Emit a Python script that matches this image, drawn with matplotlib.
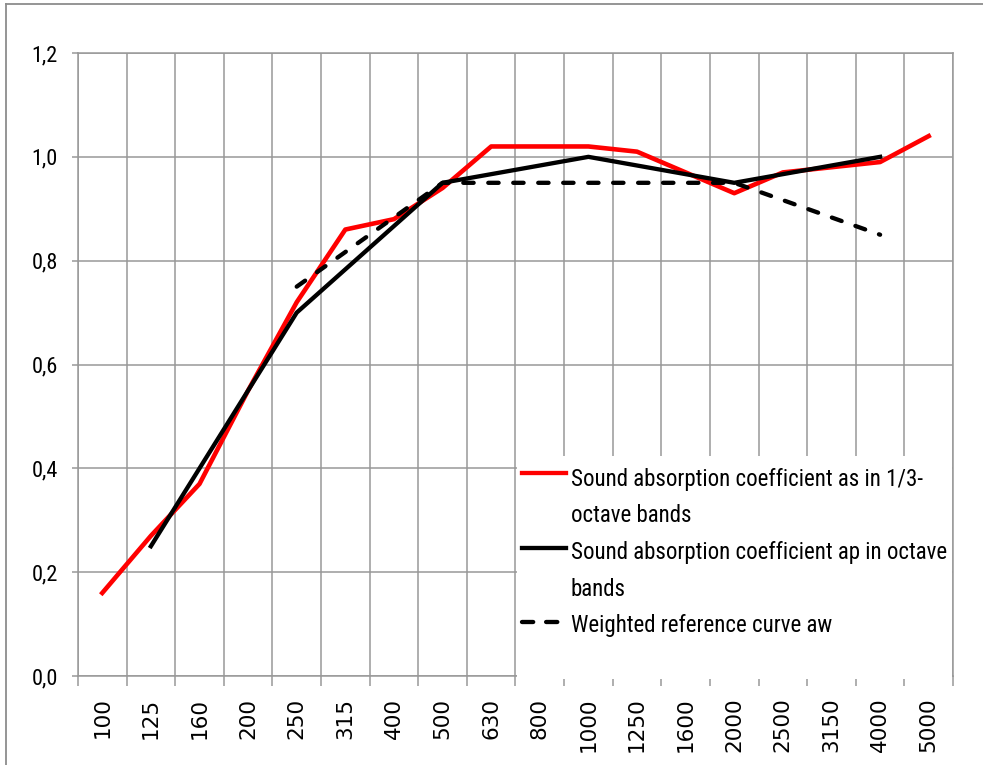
#!/usr/bin/env python3
"""Sound absorption coefficient vs frequency (1/3-octave, octave, weighted reference curve)."""

import matplotlib

matplotlib.use("Agg")
import matplotlib.pyplot as plt
import numpy as np
from matplotlib import font_manager
from matplotlib.lines import Line2D
from matplotlib.patches import Rectangle

# Data
freq_labels = ["100", "125", "160", "200", "250", "315", "400", "500", "630",
               "800", "1000", "1250", "1600", "2000", "2500", "3150", "4000", "5000"]
alpha_third = [0.16, 0.27, 0.37, 0.55, 0.72, 0.86, 0.88, 0.94, 1.02,
               1.02, 1.02, 1.01, 0.97, 0.93, 0.97, 0.98, 0.99, 1.04]
octave_labels = ["125", "250", "500", "1000", "2000", "4000"]
alpha_octave = [0.25, 0.70, 0.95, 1.00, 0.95, 1.00]
ref_labels = ["250", "500", "1000", "2000", "4000"]
alpha_ref = [0.75, 0.95, 0.95, 0.95, 0.85]
y_ticks = [0.0, 0.2, 0.4, 0.6, 0.8, 1.0, 1.2]
y_tick_labels = ["0,0", "0,2", "0,4", "0,6", "0,8", "1,0", "1,2"]

legend_labels = [
    ["Sound absorption coefficient as in 1/3-", "octave bands"],
    ["Sound absorption coefficient ap in octave", "bands"],
    ["Weighted reference curve aw"],
]


def narrow_font():
    """Pick the narrowest sans font that is installed."""
    fonts = font_manager.fontManager.ttflist
    names = {f.name for f in fonts}
    for name in ["Liberation Sans Narrow", "Roboto Condensed", "Open Sans Condensed",
                 "Noto Sans Condensed", "DejaVu Sans Condensed"]:
        if name in names:
            return dict(family=name)
    for f in fonts:
        if f.name == "DejaVu Sans" and str(f.stretch) in ("condensed", "semi-condensed"):
            return dict(family="DejaVu Sans", fontstretch="condensed")
    return dict(family="Lato" if "Lato" in names else "Liberation Sans")


NARROW = narrow_font()
GRID = "#989898"

fig = plt.figure(figsize=(9.83, 7.65), dpi=100)
ax = fig.add_axes([0.0793, 0.1163, 0.8902, 0.8144])

x = np.arange(len(freq_labels))
pos = {f: i for i, f in enumerate(freq_labels)}
x_oct = [pos[f] for f in octave_labels]
x_ref = [pos[f] for f in ref_labels]

ax.plot(x, alpha_third, color="#ff0000", lw=3.3, zorder=3)
ax.plot(x_oct, alpha_octave, color="black", lw=3.1, zorder=4)
ax.plot(x_ref, alpha_ref, color="black", lw=3.1, zorder=5,
        dashes=(2.4, 3.4), dash_capstyle="round")

ax.set_xlim(-0.5, len(freq_labels) - 0.5)
ax.set_ylim(0, 1.2)

# category labels at centres, grid/ticks at boundaries
ax.set_xticks(x)
ax.set_xticklabels(freq_labels, rotation=90, fontsize=15.5, family="DejaVu Sans")
ax.set_xticks(np.arange(-0.5, len(freq_labels)), minor=True)
ax.tick_params(axis="x", which="major", length=0, pad=15.5)
ax.tick_params(axis="x", which="minor", length=7, width=1.1, color=GRID, direction="out")
ax.grid(True, axis="x", which="minor", color=GRID, lw=1.1, zorder=0)

ax.set_yticks(y_ticks)
ax.set_yticklabels(y_tick_labels, fontsize=16, **NARROW)
ax.tick_params(axis="y", length=4.5, width=1.1, color=GRID, pad=10)
ax.grid(True, axis="y", which="major", color=GRID, lw=1.1, zorder=0)
ax.set_axisbelow(True)

for s in ax.spines.values():
    s.set_color(GRID)
    s.set_linewidth(1.1)

# legend: white box over the lower right of the plot
ax.add_patch(Rectangle((0.5018, -0.004), 0.4965, 0.357, transform=ax.transAxes,
                       facecolor="white", edgecolor="none", zorder=6, clip_on=False))

handle_y = [0.3258, 0.2060, 0.0872]
text_y = [[0.3055, 0.2477], [0.1878, 0.1284], [0.0711]]
styles = [dict(color="#ff0000"), dict(color="black"),
          dict(color="black", dashes=(2.6, 3.0), dash_capstyle="round")]
texts = []
for hy, ty, lab, st in zip(handle_y, text_y, legend_labels, styles):
    ax.add_line(Line2D([0.5074, 0.5577], [hy, hy], transform=ax.transAxes,
                       lw=3.1, zorder=7, clip_on=False, **st))
    for yy, t in zip(ty, lab):
        texts.append(ax.text(0.5634, yy, t, transform=ax.transAxes, fontsize=17,
                             va="baseline", ha="left", zorder=7, **NARROW))

# size legend text so the first line spans the same width as in the source (~351 px)
renderer = fig.canvas.get_renderer()
w = texts[0].get_window_extent(renderer).width
size = min(18.0, 17 * 351.0 / w)
for t in texts:
    t.set_fontsize(size)

# outer chart border (top and left visible)
fig.add_artist(Line2D([0.006, 1.0], [0.9945, 0.9945], transform=fig.transFigure,
                      color="#8c8c8c", lw=1.3))
fig.add_artist(Line2D([0.006, 0.006], [0.0, 0.9945], transform=fig.transFigure,
                      color="#8c8c8c", lw=1.3))

fig.savefig("out.png", dpi=100)
